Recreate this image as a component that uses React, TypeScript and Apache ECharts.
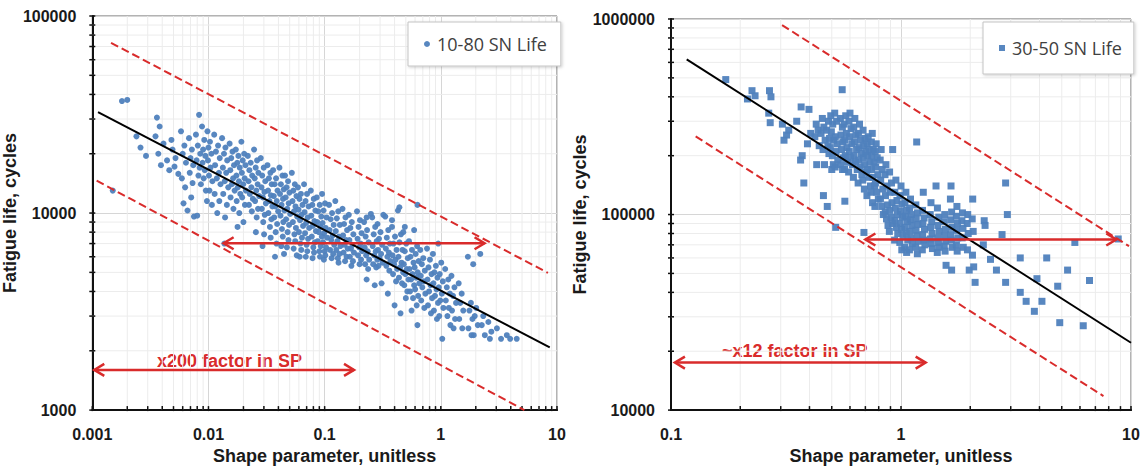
import React, { useEffect, useRef } from "react";
import * as echarts from "echarts";

const LEFT_NAME = "10-80 SN Life";
const RIGHT_NAME = "30-50 SN Life";
const LEFT_NOTE = "x200 factor in SP";
const RIGHT_NOTE = "~x12 factor in SP";
const X_TITLE = "Shape parameter, unitless";
const Y_TITLE = "Fatigue life, cycles";

const leftXRange: [number, number] = [0.001, 10];
const leftYRange: [number, number] = [1000, 100000];
const rightXRange: [number, number] = [0.1, 10];
const rightYRange: [number, number] = [10000, 1000000];

const leftFitLine = [[0.00112, 32500], [8.66, 2083]];
const leftUpperBound = [[0.00145, 73100], [8.36, 4970]];
const leftLowerBound = [[0.00109, 14600], [5.24, 1000]];
const leftArrows = [[0.0135, 2.38, 7030], [0.00104, 0.179, 1600]];

const rightFitLine = [[0.117, 622000], [10, 22100]];
const rightUpperBound = [[0.304, 931000], [9.8, 68900]];
const rightLowerBound = [[0.128, 251000], [7.59, 11800]];
const rightArrows = [[0.7, 8.63, 74500], [0.104, 1.28, 17500]];

const leftPoints: number[][] = [
  [0.0015,13000],[0.0018,37000],[0.002,37500],[0.0024,24500],[0.0026,21500],[0.0029,19500],
  [0.0036,30500],[0.0038,27500],[0.0035,24500],[0.0041,22500],[0.0037,20000],[0.0044,18500],[0.0046,16500],[0.0039,17500],
  [0.0049,21000],[0.0052,19000],[0.0048,23500],[0.0055,15800],[0.0051,17200],
  [0.0058,26000],[0.0062,22000],[0.006,20000],[0.0064,18000],[0.0059,15000],[0.0063,13500],[0.0066,10300],[0.0061,11200],
  [0.0068,24000],[0.0072,21000],[0.007,19000],[0.0074,17500],[0.0069,16000],[0.0073,14200],[0.0071,12000],[0.0075,9600],
  [0.0078,25000],[0.0083,31500],[0.0081,22000],[0.0085,20000],[0.0079,18500],[0.0084,17000],[0.0082,15500],[0.0086,14000],[0.008,9700],
  [0.0088,27500],[0.0092,23500],[0.009,21000],[0.0094,19500],[0.0089,18000],[0.0093,16500],[0.0091,15000],[0.0095,13000],[0.0097,11500],
  [0.0098,26000],[0.0103,23000],[0.01,21500],[0.0106,20000],[0.0099,18500],[0.0104,17000],[0.0101,15500],[0.0108,14500],[0.0102,13000],[0.0107,11000],
  [0.0112,25000],[0.0121,22000],[0.0116,20500],[0.0125,19000],[0.0114,17500],[0.0123,16000],[0.0118,15000],[0.0127,14000],[0.0113,12500],[0.0124,11500],[0.0119,10000],
  [0.0131,24000],[0.014,21500],[0.0136,20000],[0.0145,18500],[0.0133,17000],[0.0142,16000],[0.0138,14500],[0.0148,13500],[0.0134,12500],[0.0144,11000],[0.0139,9500],[0.0137,7000],
  [0.0152,22500],[0.0161,20500],[0.0157,19000],[0.0166,17500],[0.0154,16500],[0.0163,15000],[0.0159,14000],[0.0168,13000],[0.0155,12000],[0.0164,10500],
  [0.0172,21000],[0.0181,19500],[0.0177,18000],[0.0186,17000],[0.0174,15500],[0.0183,14500],[0.0179,13500],[0.0188,12500],[0.0175,11500],[0.0184,10000],[0.0178,8500],
  [0.0192,23000],[0.0203,20000],[0.0197,18500],[0.0208,17500],[0.0194,16000],[0.0205,15000],[0.0199,14000],[0.021,13000],[0.0195,12000],[0.0206,11000],[0.02,9000],
  [0.0218,19500],[0.0231,18000],[0.0225,16500],[0.0238,15500],[0.0221,14500],[0.0234,13500],[0.0227,12500],[0.0241,11800],[0.0223,11000],[0.0236,10200],
  [0.0247,21000],[0.0262,18500],[0.0255,17000],[0.0269,16000],[0.025,15000],[0.0265,14000],[0.0258,13000],[0.0273,12200],[0.0252,11500],[0.0267,10500],[0.026,9500],[0.0256,8000],
  [0.0282,19000],[0.0299,17000],[0.029,15500],[0.0308,14500],[0.0286,13500],[0.0303,12800],[0.0294,12000],[0.0312,11200],[0.0288,10500],[0.0305,9800],[0.0296,9000],[0.0301,7800],[0.0292,6800],
  [0.0322,17500],[0.0341,16000],[0.0331,15000],[0.035,14000],[0.0326,13000],[0.0345,12300],[0.0335,11500],[0.0355,10800],[0.0328,10000],[0.0348,9300],[0.0338,8500],[0.0343,7500],
  [0.036,16500],[0.0382,15000],[0.0371,14000],[0.0393,13000],[0.0365,12200],[0.0387,11500],[0.0376,10800],[0.0398,10200],[0.0368,9500],[0.039,8800],[0.0379,8000],[0.0385,7000],[0.0374,6000],
  [0.0408,17000],[0.0433,15500],[0.042,14000],[0.0445,13200],[0.0413,12500],[0.0438,11800],[0.0426,11000],[0.0451,10300],[0.0417,9700],[0.0441,9000],[0.0429,8300],[0.0436,7600],[0.0423,6800],[0.0447,6200],
  [0.0456,15500],[0.0484,14500],[0.047,13500],[0.0498,12700],[0.0462,12000],[0.049,11200],[0.0476,10500],[0.0505,9900],[0.0466,9300],[0.0494,8700],[0.048,8000],[0.0488,7300],[0.0473,6700],
  [0.0522,16000],[0.0554,14000],[0.0538,13000],[0.0572,12200],[0.0529,11500],[0.0561,10800],[0.0545,10200],[0.058,9600],[0.0533,9000],[0.0566,8400],[0.0549,7800],[0.0558,7200],[0.0541,6600],[0.0575,6100],
  [0.0589,13500],[0.0625,12500],[0.0607,11800],[0.0645,11000],[0.0596,10400],[0.0633,9800],[0.0614,9200],[0.0652,8600],[0.0601,8000],[0.0638,7500],[0.0619,7000],[0.0629,6500],[0.061,6000],
  [0.0665,14000],[0.0705,12500],[0.0685,11500],[0.0728,10800],[0.0672,10100],[0.0714,9500],[0.0693,8900],[0.0736,8400],[0.0678,7900],[0.072,7400],[0.0699,6900],[0.0709,6400],[0.0688,6000],
  [0.076,13000],[0.0806,11800],[0.0783,11000],[0.0832,10300],[0.0768,9700],[0.0816,9100],[0.0792,8600],[0.0841,8100],[0.0775,7600],[0.0823,7100],[0.0799,6700],[0.081,6300],[0.0787,5900],
  [0.0855,12000],[0.0907,11000],[0.0881,10200],[0.0936,9600],[0.0864,9000],[0.0918,8500],[0.0891,8000],[0.0946,7600],[0.0872,7200],[0.0926,6800],[0.0899,6400],[0.0912,6000],
  [0.095,12500],[0.1008,11200],[0.0979,10300],[0.104,9500],[0.096,8900],[0.102,8400],[0.099,7900],[0.1051,7500],[0.0969,7100],[0.1029,6700],[0.0999,6400],[0.1013,6100],[0.0985,5800],
  [0.109,11000],[0.1159,10000],[0.1126,9300],[0.1196,8700],[0.1104,8200],[0.1173,7700],[0.114,7300],[0.1209,6900],[0.1114,6500],[0.1184,6200],[0.1149,5900],
  [0.1235,11500],[0.131,10200],[0.1273,9400],[0.1352,8700],[0.1248,8100],[0.1326,7600],[0.1288,7200],[0.1367,6800],[0.126,6500],[0.1339,6200],[0.1299,5900],[0.1317,5600],
  [0.1425,10500],[0.1512,9500],[0.1469,8800],[0.156,8200],[0.144,7700],[0.153,7300],[0.1486,6900],[0.1578,6600],[0.1454,6300],[0.1545,6000],[0.1499,5700],
  [0.1615,9800],[0.1714,9000],[0.1665,8400],[0.1768,7800],[0.1632,7300],[0.1734,6900],[0.1684,6600],[0.1788,6300],[0.1648,6000],[0.1751,5700],[0.1699,5400],
  [0.19,10200],[0.2016,9200],[0.1958,8500],[0.208,7900],[0.192,7400],[0.204,7000],[0.1981,6700],[0.2103,6400],[0.1939,6100],[0.2059,5800],[0.1999,5500],
  [0.2185,9000],[0.2318,8200],[0.2252,7600],[0.2392,7100],[0.2208,6700],[0.2346,6400],[0.2278,6100],[0.2419,5800],[0.223,5500],[0.2368,5200],[0.2298,4600],
  [0.2565,9500],[0.2722,8500],[0.2644,7800],[0.2808,7200],[0.2592,6800],[0.2754,6400],[0.2674,6100],[0.284,5800],[0.2618,5500],[0.278,5300],[0.2698,4300],
  [0.285,8800],[0.3024,8000],[0.2937,7400],[0.312,6900],[0.288,6500],[0.306,6200],[0.2971,5900],[0.3155,5600],[0.2909,5400],[0.3089,4400],
  [0.3325,9600],[0.3528,8200],[0.3427,7500],[0.364,7000],[0.336,6600],[0.357,6300],[0.3466,6000],[0.3681,5700],[0.3394,5400],[0.3604,5100],[0.3499,3900],
  [0.38,8500],[0.4032,7600],[0.3916,7000],[0.416,6500],[0.384,6100],[0.408,5800],[0.3961,5500],[0.4207,5200],[0.3878,4900],[0.4118,4500],[0.3999,3400],
  [0.4275,10300],[0.4536,7800],[0.4406,7100],[0.468,6500],[0.432,6000],[0.459,5600],[0.4456,5300],[0.4733,5000],[0.4363,4700],[0.4633,4400],[0.4499,3100],
  [0.475,8000],[0.504,7000],[0.4895,6400],[0.52,5900],[0.48,5500],[0.51,5200],[0.4951,4900],[0.5259,4600],[0.4848,4300],[0.5148,4000],[0.4999,3700],
  [0.532,7200],[0.5645,6500],[0.5482,6000],[0.5824,5600],[0.5376,5200],[0.5712,4900],[0.5545,4600],[0.589,4300],[0.543,4000],[0.5766,3700],[0.5599,3200],
  [0.589,8200],[0.625,6800],[0.607,6200],[0.645,5700],[0.595,5300],[0.632,5000],[0.614,4700],[0.652,4400],[0.601,4100],[0.638,3800],[0.62,3400],[0.629,2700],
  [0.665,6500],[0.706,5900],[0.686,5500],[0.728,5100],[0.672,4800],[0.714,4500],[0.693,4200],[0.736,3900],[0.678,3600],[0.721,3300],
  [0.76,6600],[0.806,5800],[0.783,5300],[0.832,4900],[0.768,4600],[0.816,4300],[0.792,4000],[0.841,3700],[0.775,3400],[0.823,3100],
  [0.855,6200],[0.907,5400],[0.881,5000],[0.936,4700],[0.864,4400],[0.918,4100],[0.891,3800],[0.946,3500],[0.872,3200],[0.926,2900],
  [0.95,7000],[1.008,5600],[0.979,4900],[1.04,4500],[0.96,4200],[1.02,3900],[0.99,3600],[1.051,3300],[0.969,3000],[1.029,2300],
  [1.09,5200],[1.159,4600],[1.126,4200],[1.196,3900],[1.104,3600],[1.173,3300],[1.14,3000],[1.209,2700],
  [1.235,4800],[1.31,4200],[1.273,3800],[1.352,3500],[1.248,3200],[1.326,2900],[1.288,2600],
  [1.425,4400],[1.512,3900],[1.469,3500],[1.56,3200],[1.44,2900],[1.53,2600],
  [1.71,6000],[1.815,3500],[1.763,3200],[1.872,2900],[1.728,2600],[1.836,2400],
  [1.9,5500],[2.016,3300],[1.958,3000],[2.08,2700],[1.92,2400],
  [2.185,6200],[2.318,3000],[2.252,2700],[2.392,2400],
  [2.565,2800],[2.722,2500],[2.644,2300],
  [3.04,2600],[3.3,2300],[3.7,2400],[3.95,2300],[4.5,2300],
  [0.44,10700],[0.63,11000],[0.49,8500],[0.32,9800],[0.23,9500],[0.25,9900],[0.38,9200]
];

const rightPoints: number[][] = [
  [0.173,490000],[0.225,430000],[0.215,390000],[0.232,405000],
  [0.268,430000],[0.272,400000],[0.266,330000],[0.27,295000],
  [0.305,290000],[0.318,255000],[0.325,270000],[0.31,240000],[0.352,300000],
  [0.368,355000],[0.372,200000],[0.366,190000],[0.378,145000],
  [0.398,345000],[0.405,260000],[0.392,230000],
  [0.428,290000],[0.436,270000],[0.422,250000],[0.441,225000],[0.43,180000],
  [0.455,310000],[0.462,280000],[0.449,260000],[0.468,240000],[0.458,215000],[0.465,180000],[0.46,125000],
  [0.478,110000],[0.484,300000],[0.475,270000],[0.489,245000],[0.481,225000],[0.486,205000],
  [0.495,320000],[0.505,290000],[0.498,265000],[0.51,240000],[0.493,220000],[0.503,200000],[0.508,180000],[0.5,170000],
  [0.52,86000],[0.515,330000],[0.525,300000],[0.518,250000],[0.528,230000],[0.522,210000],[0.531,190000],[0.517,175000],
  [0.555,435000],[0.545,310000],[0.556,280000],[0.548,255000],[0.559,235000],[0.551,215000],[0.562,195000],[0.546,180000],[0.557,170000],
  [0.57,117000],[0.575,320000],[0.566,290000],[0.579,260000],[0.569,240000],[0.582,220000],[0.572,200000],[0.585,185000],[0.568,170000],
  [0.6,330000],[0.594,300000],[0.607,275000],[0.598,250000],[0.611,230000],[0.596,210000],[0.605,195000],[0.615,180000],[0.592,165000],
  [0.63,310000],[0.623,280000],[0.637,255000],[0.627,235000],[0.641,215000],[0.625,200000],[0.634,185000],[0.645,170000],[0.621,155000],
  [0.66,290000],[0.653,260000],[0.667,240000],[0.657,220000],[0.672,205000],[0.655,190000],[0.664,175000],[0.676,160000],[0.651,145000],
  [0.69,81000],[0.684,270000],[0.698,245000],[0.688,225000],[0.703,210000],[0.686,195000],[0.695,180000],[0.707,165000],[0.682,150000],[0.693,135000],
  [0.72,250000],[0.713,230000],[0.728,215000],[0.717,200000],[0.733,185000],[0.715,170000],[0.725,155000],[0.737,140000],[0.711,125000],
  [0.75,260000],[0.743,235000],[0.758,215000],[0.747,200000],[0.763,185000],[0.745,170000],[0.755,155000],[0.767,140000],[0.741,130000],[0.752,115000],
  [0.78,230000],[0.772,210000],[0.788,195000],[0.776,175000],[0.793,160000],[0.774,145000],[0.785,130000],[0.797,120000],[0.77,110000],
  [0.82,215000],[0.812,190000],[0.829,170000],[0.816,150000],[0.834,135000],[0.814,120000],[0.825,110000],[0.838,100000],
  [0.86,180000],[0.852,160000],[0.869,140000],[0.856,125000],[0.874,112000],[0.854,103000],[0.865,95000],[0.878,88000],
  [0.92,215000],[0.892,165000],[0.909,145000],[0.896,130000],[0.914,115000],[0.894,105000],[0.905,97000],[0.918,90000],[0.89,82000],
  [0.95,150000],[0.94,130000],[0.96,118000],[0.945,108000],[0.965,100000],[0.942,93000],[0.955,86000],[0.968,80000],[0.938,74000],
  [1.0,140000],[0.99,125000],[1.01,113000],[0.995,104000],[1.015,97000],[0.992,90000],[1.005,84000],[1.02,78000],[0.988,72000],[1.008,66000],
  [1.05,130000],[1.04,115000],[1.06,105000],[1.045,98000],[1.065,92000],[1.042,86000],[1.055,80000],[1.07,74000],[1.038,68000],[1.058,64000],
  [1.1,120000],[1.09,108000],[1.11,100000],[1.095,94000],[1.115,88000],[1.092,82000],[1.105,76000],[1.12,71000],[1.088,66000],
  [1.17,235000],[1.16,112000],[1.18,102000],[1.165,95000],[1.185,89000],[1.162,83000],[1.175,78000],[1.19,73000],[1.158,68000],[1.178,63000],
  [1.25,130000],[1.24,105000],[1.26,96000],[1.245,90000],[1.265,84000],[1.242,79000],[1.255,74000],[1.27,70000],[1.238,66000],
  [1.35,115000],[1.34,100000],[1.36,92000],[1.345,86000],[1.365,80000],[1.342,75000],[1.355,71000],[1.37,67000],
  [1.42,140000],[1.44,108000],[1.46,97000],[1.445,88000],[1.465,82000],[1.442,76000],[1.455,72000],[1.47,68000],[1.438,64000],
  [1.55,100000],[1.54,92000],[1.56,84000],[1.545,78000],[1.565,73000],[1.542,69000],[1.555,65000],[1.57,55000],
  [1.65,140000],[1.64,120000],[1.66,103000],[1.645,94000],[1.665,86000],[1.642,79000],[1.655,74000],[1.67,68000],[1.66,52000],
  [1.75,110000],[1.74,98000],[1.76,90000],[1.745,83000],[1.765,76000],[1.742,70000],[1.755,65000],
  [1.85,102000],[1.84,93000],[1.86,85000],[1.845,76000],[1.865,68000],
  [1.95,100000],[1.94,90000],[1.96,80000],[1.945,66000],[1.98,52000],
  [2.05,120000],[2.04,95000],[2.06,82000],[2.045,62000],[2.07,54000],[2.1,45000],
  [2.3,93000],[2.32,88000],[2.28,70000],
  [2.45,59000],[2.6,52000],[2.75,79000],[2.85,145000],[2.9,100000],[2.85,45000],
  [3.3,60000],[3.3,40000],[3.5,36000],[3.9,47000],[3.8,32000],[4.1,36000],[4.3,60000],
  [4.8,43000],[4.9,28000],[5.3,52000],[5.7,72000],[6.2,27000],[6.6,46000],[8.8,75000]
];

const BLUE = "#4f81bd";
const RED = "#d92b2b";
const AXIS_FONT = "'Liberation Sans', Arial, sans-serif";
const LEGEND_FONT = "'Liberation Sans Narrow', 'Open Sans', sans-serif";

function decadeTicks(min: number, max: number) {
  const major: number[] = [];
  const minor: number[] = [];
  const e0 = Math.round(Math.log10(min));
  const e1 = Math.round(Math.log10(max));
  for (let e = e0; e <= e1; e++) {
    const d = Number(Math.pow(10, e).toPrecision(6));
    major.push(d);
    if (e < e1) for (let k = 2; k <= 9; k++) minor.push(Number((k * d).toPrecision(6)));
  }
  return { major, minor };
}

function fmt(v: number) {
  return String(parseFloat(Number(v).toPrecision(6)));
}

function lineSet(axis: number, dir: "x" | "y", values: number[], xr: number[], yr: number[], kind: "grid" | "tick", stroke: string, width: number) {
  return {
    type: "custom",
    xAxisIndex: axis,
    yAxisIndex: axis,
    silent: true,
    clip: false,
    z: kind === "grid" ? 1 : 6,
    data: values.map((v) => (dir === "x" ? [v, yr[0]] : [xr[0], v])),
    encode: { x: 0, y: 1 },
    renderItem: (_p: any, api: any) => {
      let a: number[], b: number[];
      if (dir === "x") {
        const v = api.value(0);
        if (kind === "grid") {
          a = api.coord([v, yr[0]]);
          b = api.coord([v, yr[1]]);
        } else {
          const p = api.coord([v, yr[0]]);
          a = [p[0], p[1] - 4];
          b = [p[0], p[1] + 1];
        }
      } else {
        const v = api.value(1);
        if (kind === "grid") {
          a = api.coord([xr[0], v]);
          b = api.coord([xr[1], v]);
        } else {
          const p = api.coord([xr[0], v]);
          a = [p[0] - 3, p[1]];
          b = [p[0] + 3, p[1]];
        }
      }
      return { type: "line", shape: { x1: a[0], y1: a[1], x2: b[0], y2: b[1] }, style: { stroke, lineWidth: width } };
    },
  };
}

function arrowSeries(axis: number, data: number[][]) {
  return {
    type: "custom",
    xAxisIndex: axis,
    yAxisIndex: axis,
    silent: true,
    clip: false,
    z: 8,
    data,
    encode: { x: [0, 1], y: 2 },
    renderItem: (_p: any, api: any) => {
      const a = api.coord([api.value(0), api.value(2)]);
      const b = api.coord([api.value(1), api.value(2)]);
      const h = 10, w = 6;
      const st = { stroke: RED, lineWidth: 2.5, fill: null };
      return {
        type: "group",
        children: [
          { type: "line", shape: { x1: a[0], y1: a[1], x2: b[0], y2: b[1] }, style: st },
          { type: "polyline", shape: { points: [[a[0] + h, a[1] - w], [a[0], a[1]], [a[0] + h, a[1] + w]] }, style: st },
          { type: "polyline", shape: { points: [[b[0] - h, b[1] - w], [b[0], b[1]], [b[0] - h, b[1] + w]] }, style: st },
        ],
      };
    },
  };
}

function straight(axis: number, data: number[][], color: string, type: string, width: number) {
  return {
    type: "line",
    xAxisIndex: axis,
    yAxisIndex: axis,
    data,
    showSymbol: false,
    symbol: "none",
    silent: true,
    z: 7,
    lineStyle: { color, width, type },
  };
}

function xAxisCfg(idx: number, r: number[]) {
  return {
    type: "log",
    logBase: 10,
    gridIndex: idx,
    min: r[0],
    max: r[1],
    axisLine: { show: true, onZero: false, lineStyle: { color: "#111", width: 2 } },
    axisTick: { show: false },
    splitLine: { show: true, lineStyle: { color: "#d6d6d6", width: 1 } },
    axisLabel: { formatter: fmt, color: "#1a1a1a", fontSize: 16, fontWeight: "bold", fontFamily: AXIS_FONT, margin: 16, showMaxLabel: true, showMinLabel: true },
    name: X_TITLE,
    nameLocation: "middle",
    nameGap: 36,
    nameTextStyle: { color: "#1a1a1a", fontSize: 18, fontWeight: "bold", fontFamily: AXIS_FONT, verticalAlign: "top" },
  };
}

function yAxisCfg(idx: number, r: number[], gap: number) {
  return {
    type: "log",
    logBase: 10,
    gridIndex: idx,
    min: r[0],
    max: r[1],
    axisLine: { show: true, onZero: false, lineStyle: { color: "#111", width: 2 } },
    axisTick: { show: false },
    splitLine: { show: true, lineStyle: { color: "#d6d6d6", width: 1 } },
    axisLabel: { formatter: fmt, color: "#1a1a1a", fontSize: 16, fontWeight: "bold", fontFamily: AXIS_FONT, margin: 16 },
    name: Y_TITLE,
    nameLocation: "middle",
    nameGap: gap,
    nameTextStyle: { color: "#1a1a1a", fontSize: 18, fontWeight: "bold", fontFamily: AXIS_FONT },
  };
}

function legendCfg(name: string, icon: string, left: number, top: number, pad: number[]) {
  return {
    data: [{ name, icon }],
    left,
    top,
    orient: "horizontal",
    padding: pad,
    itemWidth: 6,
    itemHeight: 6,
    itemGap: 6,
    borderColor: "#c4c4c4",
    borderWidth: 1,
    backgroundColor: "#fff",
    shadowBlur: 3,
    shadowColor: "rgba(0,0,0,0.2)",
    shadowOffsetX: 1,
    shadowOffsetY: 1,
    selectedMode: false,
    textStyle: { fontSize: 18, color: "#404040", fontFamily: LEGEND_FONT, padding: [0, 0, 0, 2] },
  };
}

export default function App() {
  const ref = useRef<HTMLDivElement>(null);
  useEffect(() => {
    if (!ref.current) return;
    const chart = echarts.init(ref.current, undefined, { renderer: "svg" });
    const lt = decadeTicks(leftXRange[0], leftXRange[1]);
    const ltY = decadeTicks(leftYRange[0], leftYRange[1]);
    const rt = decadeTicks(rightXRange[0], rightXRange[1]);
    const rtY = decadeTicks(rightYRange[0], rightYRange[1]);
    const MINOR = "#ececec";
    const option: any = {
      animation: false,
      backgroundColor: "#fff",
      grid: [
        { left: 89, top: 16, width: 468, height: 397, show: true, borderColor: "#666", borderWidth: 1, backgroundColor: "transparent" },
        { left: 671, top: 19, width: 460, height: 392, show: true, borderColor: "#666", borderWidth: 1, backgroundColor: "transparent" },
      ],
      xAxis: [xAxisCfg(0, leftXRange), xAxisCfg(1, rightXRange)],
      yAxis: [yAxisCfg(0, leftYRange, 62), yAxisCfg(1, rightYRange, 59)],
      legend: [
        legendCfg(LEFT_NAME, "circle", 408, 22, [13, 14, 13, 16]),
        legendCfg(RIGHT_NAME, "rect", 983, 22, [17, 12, 17, 16]),
      ],
      graphic: [
        { type: "text", left: 157, top: 352, style: { text: LEFT_NOTE, fill: RED, fontSize: 18, fontWeight: "bold", fontFamily: AXIS_FONT } },
        { type: "text", left: 722, top: 342, style: { text: RIGHT_NOTE, fill: RED, fontSize: 18, fontWeight: "bold", fontFamily: AXIS_FONT } },
      ],
      series: [
        lineSet(0, "x", lt.minor, leftXRange, leftYRange, "grid", MINOR, 1),
        lineSet(0, "y", ltY.minor, leftXRange, leftYRange, "grid", MINOR, 1),
        lineSet(1, "x", rt.minor, rightXRange, rightYRange, "grid", MINOR, 1),
        lineSet(1, "y", rtY.minor, rightXRange, rightYRange, "grid", MINOR, 1),
        lineSet(0, "x", lt.minor.concat(lt.major), leftXRange, leftYRange, "tick", "#111", 1.5),
        lineSet(0, "y", ltY.minor.concat(ltY.major), leftXRange, leftYRange, "tick", "#111", 1.5),
        lineSet(1, "x", rt.minor.concat(rt.major), rightXRange, rightYRange, "tick", "#111", 1.5),
        lineSet(1, "y", rtY.minor.concat(rtY.major), rightXRange, rightYRange, "tick", "#111", 1.5),
        {
          name: LEFT_NAME, type: "scatter", xAxisIndex: 0, yAxisIndex: 0, data: leftPoints,
          symbol: "circle", symbolSize: 6, itemStyle: { color: BLUE, opacity: 0.95 }, z: 5, silent: true,
        },
        {
          name: RIGHT_NAME, type: "scatter", xAxisIndex: 1, yAxisIndex: 1, data: rightPoints,
          symbol: "rect", symbolSize: 7, itemStyle: { color: BLUE, opacity: 0.95 }, z: 5, silent: true,
        },
        straight(0, leftFitLine, "#000", "solid", 2),
        straight(0, leftUpperBound, RED, "dashed", 2),
        straight(0, leftLowerBound, RED, "dashed", 2),
        straight(1, rightFitLine, "#000", "solid", 2),
        straight(1, rightUpperBound, RED, "dashed", 2),
        straight(1, rightLowerBound, RED, "dashed", 2),
        arrowSeries(0, leftArrows),
        arrowSeries(1, rightArrows),
      ],
    };
    chart.setOption(option);
    return () => chart.dispose();
  }, []);
  return <div ref={ref} style={{ position: "absolute", left: 0, top: 0, width: 1143, height: 470 }} />;
}
